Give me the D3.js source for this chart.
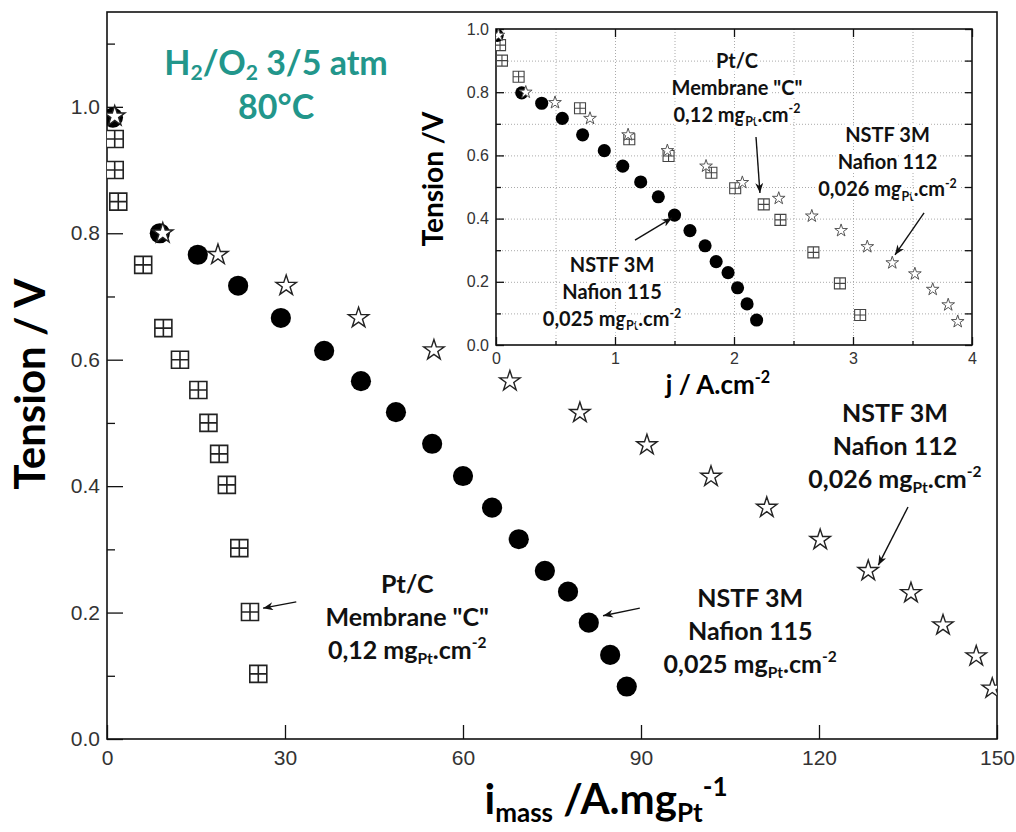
<!DOCTYPE html>
<html>
<head>
<meta charset="utf-8">
<script src="https://cdn.jsdelivr.net/npm/d3@7/dist/d3.min.js"></script>
<style>
    body { margin: 0; background: #fff; }
    #chart { width: 1016px; height: 832px; }
</style>
</head>
<body>
<div id="chart"></div>
<script>
// main chart : i_mass (A/mgPt) vs tension (V)
const ptcMain = [[1.3, 0.949], [1.3, 0.90], [1.9, 0.85], [6.1, 0.75], [9.5, 0.65], [12.3, 0.60], [15.4, 0.552],
    [17.1, 0.50], [18.9, 0.451], [20.2, 0.402], [22.3, 0.302], [24.1, 0.201], [25.5, 0.103]];
const nstf115Main = [[1.0, 0.983], [8.9, 0.80], [15.3, 0.766], [22.1, 0.717], [29.3, 0.666], [36.6, 0.614],
    [42.8, 0.566], [48.7, 0.517], [54.8, 0.467], [60.0, 0.416], [64.9, 0.366], [69.4, 0.316], [73.8, 0.266],
    [77.7, 0.233], [81.2, 0.184], [84.8, 0.133], [87.6, 0.083]];
const nstf112Main = [[1.3, 0.985], [9.4, 0.80], [18.7, 0.766], [30.2, 0.717], [42.4, 0.666], [55.1, 0.615],
    [67.9, 0.566], [79.7, 0.516], [91.0, 0.465], [101.8, 0.415], [111.2, 0.366], [120.2, 0.315], [128.3, 0.266],
    [135.5, 0.231], [140.9, 0.18], [146.5, 0.131], [149.2, 0.08]];

// inset : j (A/cm2) vs tension (V)
const ptcInset = [[0.034, 0.949], [0.05, 0.90], [0.19, 0.849], [0.706, 0.749], [1.12, 0.651], [1.45, 0.598],
    [1.81, 0.545], [2.01, 0.496], [2.25, 0.445], [2.39, 0.396], [2.667, 0.293], [2.89, 0.195], [3.06, 0.095]];
const nstf115Inset = [[0.01, 0.98], [0.216, 0.798], [0.384, 0.765], [0.557, 0.717], [0.728, 0.665], [0.91, 0.615],
    [1.065, 0.566], [1.216, 0.516], [1.364, 0.469], [1.5, 0.411], [1.63, 0.362], [1.757, 0.314], [1.85, 0.264],
    [1.95, 0.229], [2.03, 0.181], [2.11, 0.13], [2.19, 0.079]];
const nstf112Inset = [[0.02, 0.98], [0.25, 0.80], [0.496, 0.767], [0.79, 0.717], [1.11, 0.665], [1.44, 0.615],
    [1.765, 0.566], [2.07, 0.514], [2.376, 0.464], [2.654, 0.408], [2.9, 0.362], [3.12, 0.311], [3.33, 0.26],
    [3.52, 0.225], [3.67, 0.176], [3.80, 0.127], [3.88, 0.074]];

// ticks
const mainXTicks = [0, 30, 60, 90, 120, 150];
const mainYTicks = [0, 0.2, 0.4, 0.6, 0.8, 1.0];
const mainYMinor = [0.1, 0.3, 0.5, 0.7, 0.9, 1.1];
const insetXTicks = [0, 1, 2, 3, 4];
const insetXMinor = [0.5, 1.5, 2.5, 3.5];
const insetYTicks = [0, 0.2, 0.4, 0.6, 0.8, 1.0];
const insetYMinor = [0.1, 0.3, 0.5, 0.7, 0.9];
const insetGridX = [0.5, 1, 1.5, 2, 2.5, 3, 3.5];
const insetGridY = [0.1, 0.2, 0.3, 0.4, 0.5, 0.6, 0.7, 0.8, 0.9];

// labels ( _{} = subscript, ^{} = superscript ), anchor in data units
const conditionLabel = { at: [28.5, 1.05], lines: ["H_{2}/O_{2} 3/5 atm", "80°C"] };
const mainLabels = [
    { at: [50.6, 0.231], lines: ["Pt/C", 'Membrane "C"', "0,12 mg_{Pt}.cm^{-2}"], arrow: [[31.9, 0.217], [26.3, 0.207]] },
    { at: [108.4, 0.209], lines: ["NSTF 3M", "Nafion 115", "0,025 mg_{Pt}.cm^{-2}"], arrow: [[89.8, 0.207], [83.6, 0.195]] },
    { at: [132.8, 0.502], lines: ["NSTF 3M", "Nafion 112", "0,026 mg_{Pt}.cm^{-2}"], arrow: [[135.0, 0.367], [130.0, 0.275]] }
];
const insetLabels = [
    { at: [2.025, 0.877], lines: ["Pt/C", 'Membrane "C"', "0,12 mg_{Pt}.cm^{-2}"], arrow: [[2.185, 0.658], [2.218, 0.481]] },
    { at: [3.29, 0.642], lines: ["NSTF 3M", "Nafion 112", "0,026 mg_{Pt}.cm^{-2}"], arrow: [[3.597, 0.418], [3.353, 0.285]] },
    { at: [0.975, 0.231], lines: ["NSTF 3M", "Nafion 115", "0,025 mg_{Pt}.cm^{-2}"], arrow: [[1.168, 0.332], [1.479, 0.402]] }
];

const titleFont = "Lato, 'Open Sans', sans-serif";
const tickFont = "'Liberation Sans', Arial, sans-serif";

// box with a cross, like the Pt/C markers
const symbolBoxCross = {
    draw(ctx, size) {
        const h = Math.sqrt(size) / 2;
        ctx.moveTo(-h, -h); ctx.lineTo(h, -h); ctx.lineTo(h, h); ctx.lineTo(-h, h); ctx.closePath();
        ctx.moveTo(0, -h); ctx.lineTo(0, h);
        ctx.moveTo(-h, 0); ctx.lineTo(h, 0);
    }
};

// writes "mg_{Pt}.cm^{-2}" style strings as tspans
function richText(sel, str, size, subShift = 0.22) {
    const parts = str.split(/(_\{[^}]*\}|\^\{[^}]*\})/).filter(s => s.length);
    let cur = 0;
    parts.forEach(p => {
        let txt = p, off = 0, fs = size;
        if (p.startsWith("_{")) { txt = p.slice(2, -1); off = subShift * size; fs = 0.62 * size; }
        else if (p.startsWith("^{")) { txt = p.slice(2, -1); off = -0.42 * size; fs = 0.62 * size; }
        sel.append("tspan").attr("dy", off - cur).style("font-size", fs + "px").text(txt);
        cur = off;
    });
}

const div = document.getElementById("chart");
const svg = d3.select(div).append("svg")
    .attr("width", 1016).attr("height", 832)
    .style("background", "#fff");

const defs = svg.append("defs");
defs.append("marker").attr("id", "arrow")
    .attr("viewBox", "0 0 10 8").attr("refX", 10).attr("refY", 4)
    .attr("markerWidth", 11).attr("markerHeight", 8).attr("markerUnits", "userSpaceOnUse")
    .attr("orient", "auto")
    .append("path").attr("d", "M0,0 L10,4 L0,8 L3,4 Z").attr("fill", "#111");

// ---------------- main chart
const x = d3.scaleLinear().domain([0, 150]).range([107, 997]);
const y = d3.scaleLinear().domain([0, 1.15]).range([739, 12]);

defs.append("clipPath").attr("id", "clipMain").append("rect")
    .attr("x", x(0)).attr("y", y(1.15)).attr("width", x(150) - x(0)).attr("height", y(0) - y(1.15));

const styleAxis = (g, fs) => {
    g.select(".domain").remove();
    g.selectAll("line").attr("stroke", "#111").attr("stroke-width", 1.3);
    g.selectAll("text").style("font-family", tickFont).style("font-size", fs + "px").attr("fill", "#333");
};

svg.append("g").attr("transform", `translate(${x(0)},0)`)
    .call(d3.axisLeft(y).tickValues(mainYTicks).tickSize(-16).tickPadding(7).tickFormat(d3.format(".1f")))
    .call(g => styleAxis(g, 21));
svg.append("g").attr("transform", `translate(${x(0)},0)`)
    .call(d3.axisLeft(y).tickValues(mainYMinor).tickSize(-8).tickFormat(""))
    .call(g => styleAxis(g, 21));
svg.append("g").attr("transform", `translate(0,${y(0)})`)
    .call(d3.axisBottom(x).tickValues(mainXTicks).tickSize(-14).tickPadding(11).tickFormat(d3.format("d")))
    .call(g => styleAxis(g, 21));

svg.append("rect")
    .attr("x", x(0)).attr("y", y(1.15)).attr("width", x(150) - x(0)).attr("height", y(0) - y(1.15))
    .attr("fill", "none").attr("stroke", "#111").attr("stroke-width", 1.6);

// axis titles
svg.append("text")
    .attr("transform", `translate(45,384) rotate(-90)`)
    .attr("text-anchor", "middle")
    .style("font-family", titleFont).style("font-weight", 700).style("font-size", "42px")
    .text("Tension / V");

svg.append("text")
    .attr("x", 606).attr("y", 814)
    .attr("text-anchor", "middle")
    .style("font-family", titleFont).style("font-weight", 700).style("font-size", "42px")
    .call(t => richText(t, "i_{mass} /A.mg_{Pt}^{-1}", 42, 0.2));

// markers
const mainMarks = svg.append("g").attr("clip-path", "url(#clipMain)");
mainMarks.selectAll(".ptc").data(ptcMain).enter().append("path")
    .attr("transform", d => `translate(${x(d[0])},${y(d[1])})`)
    .attr("d", d3.symbol(symbolBoxCross, 289))
    .attr("fill", "#fff").attr("stroke", "#222").attr("stroke-width", 1.6);
mainMarks.selectAll(".n115").data(nstf115Main).enter().append("path")
    .attr("transform", d => `translate(${x(d[0])},${y(d[1])})`)
    .attr("d", d3.symbol(d3.symbolCircle, 320))
    .attr("fill", "#000");
mainMarks.selectAll(".n112").data(nstf112Main).enter().append("path")
    .attr("transform", d => `translate(${x(d[0])},${y(d[1])})`)
    .attr("d", d3.symbol(d3.symbolStar, 130))
    .attr("fill", "#fff").attr("stroke", "#222").attr("stroke-width", 1.4).attr("stroke-linejoin", "miter");

// condition label
const cond = svg.append("text")
    .attr("text-anchor", "middle")
    .style("font-family", titleFont).style("font-weight", 700).style("font-size", "34px")
    .attr("fill", "#22968b");
conditionLabel.lines.forEach((l, i) => {
    cond.append("tspan").attr("x", x(conditionLabel.at[0])).attr("y", y(conditionLabel.at[1]) + i * 44)
        .call(t => richText(t, l, 34, 0.15));
});

function drawLabels(list, xs, ys, fs, lh, halo) {
    list.forEach(lab => {
        const t = svg.append("text")
            .attr("text-anchor", "middle")
            .style("font-family", titleFont).style("font-weight", 700).style("font-size", fs + "px")
            .attr("fill", "#111");
        if (halo) t.attr("stroke", "#fff").attr("stroke-width", 7).attr("paint-order", "stroke").attr("stroke-linejoin", "round");
        lab.lines.forEach((l, i) => {
            t.append("tspan").attr("x", xs(lab.at[0])).attr("y", ys(lab.at[1]) + i * lh)
                .call(s => richText(s, l, fs));
        });
        svg.append("line")
            .attr("x1", xs(lab.arrow[0][0])).attr("y1", ys(lab.arrow[0][1]))
            .attr("x2", xs(lab.arrow[1][0])).attr("y2", ys(lab.arrow[1][1]))
            .attr("stroke", "#111").attr("stroke-width", 1.4)
            .attr("marker-end", "url(#arrow)");
    });
}
drawLabels(mainLabels, x, y, 25, 33, false);

// ---------------- inset
const xi = d3.scaleLinear().domain([0, 4]).range([496, 972]);
const yi = d3.scaleLinear().domain([0, 1]).range([345, 29]);

defs.append("clipPath").attr("id", "clipInset").append("rect")
    .attr("x", xi(0)).attr("y", yi(1)).attr("width", xi(4) - xi(0)).attr("height", yi(0) - yi(1));

const inset = svg.append("g");

// dotted gridlines
inset.append("g").attr("transform", `translate(0,${yi(0)})`)
    .call(d3.axisBottom(xi).tickValues(insetGridX).tickSize(-(yi(0) - yi(1))).tickFormat(""))
    .call(g => { g.select(".domain").remove(); g.selectAll("line").attr("stroke", "#aaa").attr("stroke-dasharray", "1,2"); });
inset.append("g").attr("transform", `translate(${xi(0)},0)`)
    .call(d3.axisLeft(yi).tickValues(insetGridY).tickSize(-(xi(4) - xi(0))).tickFormat(""))
    .call(g => { g.select(".domain").remove(); g.selectAll("line").attr("stroke", "#aaa").attr("stroke-dasharray", "1,2"); });

inset.append("g").attr("transform", `translate(0,${yi(0)})`)
    .call(d3.axisBottom(xi).tickValues(insetXTicks).tickSize(-8).tickPadding(8).tickFormat(d3.format("d")))
    .call(g => styleAxis(g, 16));
inset.append("g").attr("transform", `translate(0,${yi(0)})`)
    .call(d3.axisBottom(xi).tickValues(insetXMinor).tickSize(-4).tickFormat(""))
    .call(g => styleAxis(g, 16));
inset.append("g").attr("transform", `translate(0,${yi(1)})`)
    .call(d3.axisTop(xi).tickValues(insetXTicks).tickSize(-8).tickFormat(""))
    .call(g => styleAxis(g, 16));
inset.append("g").attr("transform", `translate(${xi(0)},0)`)
    .call(d3.axisLeft(yi).tickValues(insetYTicks).tickSize(-8).tickPadding(7).tickFormat(d3.format(".1f")))
    .call(g => styleAxis(g, 16));
inset.append("g").attr("transform", `translate(${xi(0)},0)`)
    .call(d3.axisLeft(yi).tickValues(insetYMinor).tickSize(-5).tickFormat(""))
    .call(g => styleAxis(g, 16));
inset.append("g").attr("transform", `translate(${xi(4)},0)`)
    .call(d3.axisRight(yi).tickValues(insetYTicks.concat(insetYMinor)).tickSize(-7).tickFormat(""))
    .call(g => styleAxis(g, 16));

inset.append("rect")
    .attr("x", xi(0)).attr("y", yi(1)).attr("width", xi(4) - xi(0)).attr("height", yi(0) - yi(1))
    .attr("fill", "none").attr("stroke", "#111").attr("stroke-width", 1.6);

inset.append("text")
    .attr("transform", `translate(443,179) rotate(-90)`)
    .attr("text-anchor", "middle")
    .style("font-family", titleFont).style("font-weight", 700).style("font-size", "28px")
    .text("Tension /V");
inset.append("text")
    .attr("x", 718).attr("y", 394)
    .attr("text-anchor", "middle")
    .style("font-family", titleFont).style("font-weight", 700).style("font-size", "26px")
    .call(t => richText(t, "j / A.cm^{-2}", 26));

const insetMarks = inset.append("g").attr("clip-path", "url(#clipInset)");
insetMarks.selectAll(".ptc").data(ptcInset).enter().append("path")
    .attr("transform", d => `translate(${xi(d[0])},${yi(d[1])})`)
    .attr("d", d3.symbol(symbolBoxCross, 121))
    .attr("fill", "#fff").attr("stroke", "#444").attr("stroke-width", 1.1);
insetMarks.selectAll(".n115").data(nstf115Inset).enter().append("path")
    .attr("transform", d => `translate(${xi(d[0])},${yi(d[1])})`)
    .attr("d", d3.symbol(d3.symbolCircle, 135))
    .attr("fill", "#000");
insetMarks.selectAll(".n112").data(nstf112Inset).enter().append("path")
    .attr("transform", d => `translate(${xi(d[0])},${yi(d[1])})`)
    .attr("d", d3.symbol(d3.symbolStar, 50))
    .attr("fill", "#fff").attr("stroke", "#555").attr("stroke-width", 1);

drawLabels(insetLabels, xi, yi, 20, 27, true);
</script>
</body>
</html>
